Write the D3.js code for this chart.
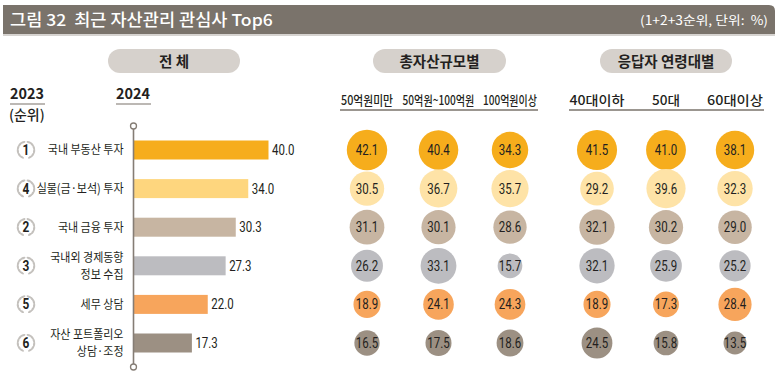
<!DOCTYPE html>
<html><head><meta charset="utf-8">
<script src="https://cdn.jsdelivr.net/npm/d3@7"></script>
<style>
body{margin:0;background:#fff;}
svg{display:block;}
text{white-space:pre;}
.kr{font-family:"Noto Sans CJK KR","Noto Sans",sans-serif;}
.num{font-family:Roboto,"Noto Sans",sans-serif;}
</style></head>
<body>
<svg id="c" width="777" height="374"></svg>
<script>
const categories = ["국내 부동산 투자", "실물(금·보석) 투자", "국내 금융 투자", "국내외 경제동향\n정보 수집", "세무 상담", "자산 포트폴리오\n상담·조정"];
const ranks2023 = [1, 4, 2, 3, 5, 6];
const total2024 = [40.0, 34.0, 30.3, 27.3, 22.0, 17.3];
const assetGroups = ["50억원미만", "50억원~100억원", "100억원이상"];
const assetValues = [
  [42.1, 40.4, 34.3],
  [30.5, 36.7, 35.7],
  [31.1, 30.1, 28.6],
  [26.2, 33.1, 15.7],
  [18.9, 24.1, 24.3],
  [16.5, 17.5, 18.6]
];
const ageGroups = ["40대이하", "50대", "60대이상"];
const ageValues = [
  [41.5, 41.0, 38.1],
  [29.2, 39.6, 32.3],
  [32.1, 30.2, 29.0],
  [32.1, 25.9, 25.2],
  [18.9, 17.3, 28.4],
  [24.5, 15.8, 13.5]
];
const colors = ["#f6ad1c", "#fed67e", "#c7b5a2", "#bcbcc0", "#f7a55c", "#9c9083"];
const circleColors = ["#f6ad1c", "#fee3a7", "#c7b5a2", "#bcbcc0", "#f7a55c", "#9c9083"];

const svg = d3.select("#c");
const ink = "#231f20";

// condensed number text helper
function numText(parent, txt, x, y, anchor, size, weight) {
  return parent.append("text").attr("class","num")
    .attr("transform", `translate(${x},${y}) scale(0.82,1)`)
    .attr("text-anchor", anchor).attr("font-size", size).attr("font-weight", weight || 400)
    .attr("fill", ink).text(txt);
}
// text squeezed horizontally to a target width via transform
function fitText(parent, txt, x, y, anchor, size, weight, width, fill) {
  const t = parent.append("text").attr("class","kr")
    .attr("text-anchor", anchor).attr("font-size", size).attr("font-weight", weight)
    .attr("fill", fill || ink).text(txt);
  const w = t.node().getComputedTextLength();
  const sx = w > 0 ? width / w : 1;
  t.attr("transform", `translate(${x},${y}) scale(${sx},1)`);
  return t;
}

// Title bar
svg.append("path")
  .attr("d", "M3,5 H769 Q775,5 775,11 V34 H3 Z")
  .attr("fill", "#7a736b");
svg.append("line").attr("x1",3).attr("x2",775).attr("y1",35).attr("y2",35).attr("stroke","#c9c5c0").attr("stroke-width",1.5);
fitText(svg, "그림 32  최근 자산관리 관심사 Top6", 10, 25.5, "start", 16.5, 500, 263, "#fff");
fitText(svg, "(1+2+3순위, 단위:  %)", 768, 24.5, "end", 12.5, 400, 128, "#fff");

// Pills
const pills = [["전 체", 108, 240], ["총자산규모별", 373, 506], ["응답자 연령대별", 600, 732]];
pills.forEach(p => {
  svg.append("rect").attr("x", p[1]).attr("y", 49).attr("width", p[2]-p[1]).attr("height", 24)
    .attr("rx", 12).attr("fill", "#d6d1cc");
  svg.append("text").attr("class","kr").attr("x",(p[1]+p[2])/2).attr("y",66.5)
    .attr("text-anchor","middle").attr("font-size",14.5).attr("font-weight",700).attr("fill",ink).text(p[0]);
});

// Year headers
function yearHead(txt, x) {
  fitText(svg, txt, x, 99, "start", 14.5, 700, 34);
  svg.append("line").attr("x1",x).attr("x2",x+35).attr("y1",104).attr("y2",104)
    .attr("stroke","#7a736b").attr("stroke-width",1.2);
}
yearHead("2023", 10);
yearHead("2024", 116);
svg.append("text").attr("class","kr").attr("x",9).attr("y",120).attr("font-size",14)
  .attr("font-weight",500).attr("fill",ink).text("(순위)");

// Scales
const idx = categories.map((d,i)=>i);
const y = d3.scalePoint().domain(idx).range([150, 343]);
const x = d3.scaleLinear().domain([0, 40]).range([133.5, 268.5]);
const barH = 19;

// Bars
svg.selectAll("rect.bar").data(total2024).join("rect").attr("class","bar")
  .attr("x", x(0)).attr("y", (d,i)=>y(i)-barH/2)
  .attr("width", d=>x(d)-x(0)).attr("height", barH)
  .attr("fill", (d,i)=>colors[i]);
total2024.forEach((d,i)=>numText(svg, d.toFixed(1), x(d)+3.5, y(i)+5, "start", 14));

// Axis line
svg.append("line").attr("x1",x(0)).attr("x2",x(0)).attr("y1",129).attr("y2",364)
  .attr("stroke","#857d75").attr("stroke-width",1.6);
[126, 367].forEach(cy=>svg.append("circle").attr("cx",x(0)).attr("cy",cy).attr("r",3)
  .attr("fill","#fff").attr("stroke","#857d75").attr("stroke-width",1.3));

// Category labels
categories.forEach((c,i)=>{
  const lines = c.split("\n");
  const g = svg.append("g").attr("transform",`translate(123.5,0) scale(0.88,1)`);
  const y0 = y(i) + 4.5 - (lines.length-1)*8.5;
  lines.forEach((l,j)=>g.append("text").attr("class","kr").attr("text-anchor","end")
    .attr("font-size",12.5).attr("fill",ink).attr("x",0).attr("y",y0+j*17).text(l));
});

// Rank badges (laurel)
ranks2023.forEach((rk,i)=>{
  const g = svg.append("g").attr("transform",`translate(26,${y(i)})`);
  for (const s of [-1,1]) {
    for (let k=0;k<6;k++){
      const a = -70 + k*26;
      const ang = a * Math.PI/180;
      const R = 8.2;
      const cx = s*R*Math.cos(ang), cy = R*Math.sin(ang);
      g.append("ellipse").attr("cx",cx).attr("cy",cy).attr("rx",2.4).attr("ry",1.1)
        .attr("fill","#c4c1bd").attr("transform",`rotate(${s*(a+90)},${cx},${cy})`);
    }
  }
  numText(g, String(rk), 0, 5, "middle", 14.5, 700);
});

// Bubble columns
const r = d3.scaleSqrt().domain([0, 42.1]).range([0, 20.2]);
function bubbleGroup(groups, widths, values, x0, x1, lineX0, lineX1) {
  const xc = d3.scalePoint().domain(groups).range([x0, x1]);
  groups.forEach((gname,k)=>{
    fitText(svg, gname, xc(gname), 104.5, "middle", 13, 500, widths[k]);
  });
  svg.append("line").attr("x1",lineX0).attr("x2",lineX1).attr("y1",110).attr("y2",110)
    .attr("stroke","#7a736b").attr("stroke-width",1.4);
  values.forEach((row,i)=>{
    row.forEach((v,j)=>{
      svg.append("circle").attr("cx", xc(groups[j])).attr("cy", y(i)).attr("r", r(v))
        .attr("fill", circleColors[i]);
      numText(svg, v.toFixed(1), xc(groups[j]), y(i)+5, "middle", 14);
    });
  });
}
bubbleGroup(assetGroups, [52, 72, 54], assetValues, 367, 510, 340, 538);
bubbleGroup(ageGroups, [55, 28, 56], ageValues, 597, 735, 569, 764);
</script>
</body></html>
